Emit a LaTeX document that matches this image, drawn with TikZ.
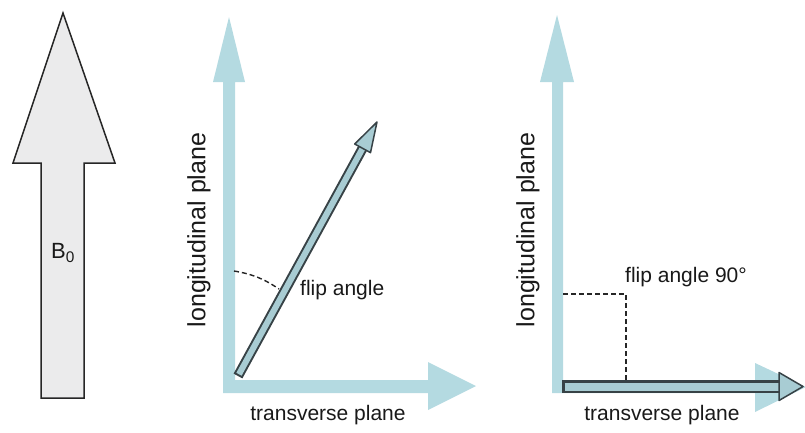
\documentclass[tikz,border=0pt]{standalone}
\usepackage{fontspec}
\setmainfont{Liberation Sans}
\usepackage{xcolor}
\definecolor{axisblue}{RGB}{180,218,225}
\definecolor{vecfill}{RGB}{168,204,211}
\definecolor{vecline}{RGB}{55,66,70}
\definecolor{bfill}{RGB}{235,235,236}
\usetikzlibrary{calc}

\begin{document}
\begin{tikzpicture}[
    x=1pt, y=-1pt,
    axis/.style={fill=axisblue, draw=none},
    bigarrow/.style={fill=bfill, draw=black!85, line width=1.5pt, line join=miter},
    vechead/.style={fill=vecfill, draw=vecline, line width=1.5pt, line join=round},
    lab/.style={font=\fontsize{21}{24}\selectfont, text=black!90, inner sep=0pt},
    guide/.style={draw=black!85, line width=1.4pt, dash pattern=on 5pt off 3pt}
]
\useasboundingbox (0,0) rectangle (805,432);

% --- B0 ---
\filldraw[bigarrow] (41,398) -- (41,163) -- (13,163) -- (63,13) -- (115,163)
    -- (84,163) -- (84,398) -- cycle;
\node[lab, font=\fontsize{22}{26}\selectfont] (bzero) at (63,253) {B\textsubscript{0}};

% --- middle: axes ---
\fill[axis] (223,393) -- (223,82) -- (213,82) -- (229,17) -- (245,82) -- (235,82)
    -- (235,380) -- (428,380) -- (428,362) -- (476,386) -- (428,410) -- (428,393) -- cycle;
\node[lab, rotate=90, font=\fontsize{25}{28}\selectfont] (long1) at (199,230) {longitudinal plane};
\node[lab] (trans1) at (328,415) {transverse plane};

% --- middle: tilted vector ---
\coordinate (v1tail) at (238,376);
\coordinate (v1tip)  at (377,122);
\coordinate (v1base) at ($(v1tip)!30pt!(v1tail)$);
\draw[vecline, line width=10pt] (v1tail) -- (v1base);
\draw[vecfill, line width=6pt] ($(v1tail)!2pt!(v1base)$) -- (v1base);
\filldraw[vechead] (v1tip) -- ($(v1base)!9pt!90:(v1tip)$) -- ($(v1base)!9pt!-90:(v1tip)$) -- cycle;

% flip angle
\coordinate (arc1) at (234,271);
\coordinate (arc2) at (279,289);
\draw[guide] (arc1) to[bend left=12] (arc2);
\node[lab, anchor=west] (flip1) at (300,290) {flip angle};

% --- right: axes ---
\fill[axis] (552,393) -- (552,82) -- (540,82) -- (557,15) -- (574,82) -- (563,82)
    -- (563,380) -- (755,380) -- (755,363) -- (806,387) -- (755,412) -- (755,393) -- cycle;
\node[lab, rotate=90, font=\fontsize{25}{28}\selectfont] (long2) at (528,230) {longitudinal plane};
\node[lab] (trans2) at (662,415) {transverse plane};

% flip angle 90
\coordinate (corner) at (626,294);
\coordinate (foot) at (626,380);
\coordinate (side) at (563,294);
\draw[guide] (side) -- (corner) -- (foot);
\node[lab, anchor=west] (flip2) at (625,277) {flip angle 90°};

% --- right: flipped vector ---
\coordinate (v2tail) at (562,386.5);
\coordinate (v2base) at (779,386.5);
\coordinate (v2tip)  at (803,386.5);
\draw[vecline, line width=13pt] (v2tail) -- (v2base);
\draw[vecfill, line width=8pt] ($(v2tail)!2.5pt!(v2base)$) -- (v2base);
\filldraw[vechead] (v2tip) -- ($(v2base)!14pt!90:(v2tip)$) -- ($(v2base)!14pt!-90:(v2tip)$) -- cycle;

\end{tikzpicture}
\end{document}
